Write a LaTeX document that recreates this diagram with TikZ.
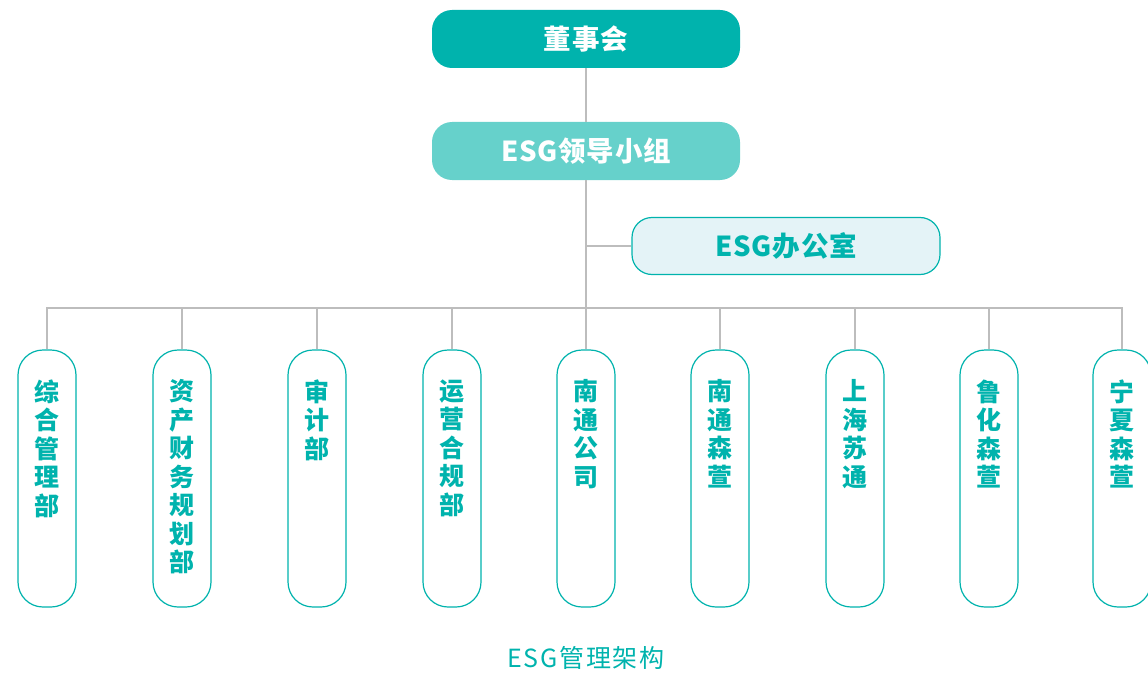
\documentclass[tikz,border=0pt]{standalone}
\usepackage{fontspec}
\setmainfont{Noto Sans CJK SC}
\newfontfamily\spaced[LetterSpace=3]{Noto Sans CJK SC}
\newfontfamily\wide[LetterSpace=7]{Noto Sans CJK SC}
\usetikzlibrary{positioning}

\definecolor{esgdark}{HTML}{00B3AD}
\definecolor{esglight}{HTML}{66D1CB}
\definecolor{esgpale}{HTML}{E4F3F7}
\definecolor{esgline}{HTML}{BDBDBD}

\tikzset{
  topbox/.style={rounded corners=20pt, minimum width=308pt, minimum height=58pt,
    text=white, font=\spaced\fontsize{27.5}{30}\selectfont\bfseries},
  officebox/.style={draw=esgdark, line width=1.2pt, fill=esgpale, rounded corners=20pt,
    minimum width=308pt, minimum height=57pt, text=esgdark,
    font=\spaced\fontsize{27.5}{30}\selectfont\bfseries},
  colbox/.style={draw=esgdark, line width=1.2pt, fill=white, rounded corners=25pt,
    minimum width=58pt, minimum height=257pt},
  coltext/.style={text=esgdark, align=center, inner sep=0pt,
    font=\fontsize{25}{28.5}\selectfont\bfseries},
  link/.style={draw=esgline, line width=1.5pt}
}

\begin{document}
\begin{tikzpicture}[x=1pt, y=-1pt]
      \useasboundingbox (0, 0) rectangle (1148, 674);
      \clip (0, 0) rectangle (1148, 674);
      % top levels
      \node (board) [topbox, fill=esgdark] at (586, 39) {董事会};
      \node (lead) [topbox, fill=esglight] at (586, 151) {ESG领导小组};
      \node (office) [officebox] at (786, 246) {ESG办公室};
      \coordinate (bus) at (586, 308);
      \coordinate (fork) at (586, 246);
      \draw[link] (board) -- (lead)
                  (lead) -- (bus)
                  (fork) -- (office);
      % departments and subsidiaries
      \foreach \n/\x/\t in {1/47/综\\合\\管\\理\\部,
                            2/182/资\\产\\财\\务\\规\\划\\部,
                            3/317/审\\计\\部,
                            4/452/运\\营\\合\\规\\部,
                            5/586/南\\通\\公\\司,
                            6/720/南\\通\\森\\萱,
                            7/855/上\\海\\苏\\通,
                            8/989/鲁\\化\\森\\萱,
                            9/1122/宁\\夏\\森\\萱} {
        \node (d\n) [colbox] at (\x, 478.5) {};
        \node (t\n) [coltext, below=30pt of d\n.north, anchor=north] {\t};
        \draw[link] (bus) -| (d\n.north);
      }
      \node (title) [text=esgdark, font=\wide\fontsize{25}{28}\selectfont] at (586, 658)
            {ESG管理架构};
\end{tikzpicture}
\end{document}
